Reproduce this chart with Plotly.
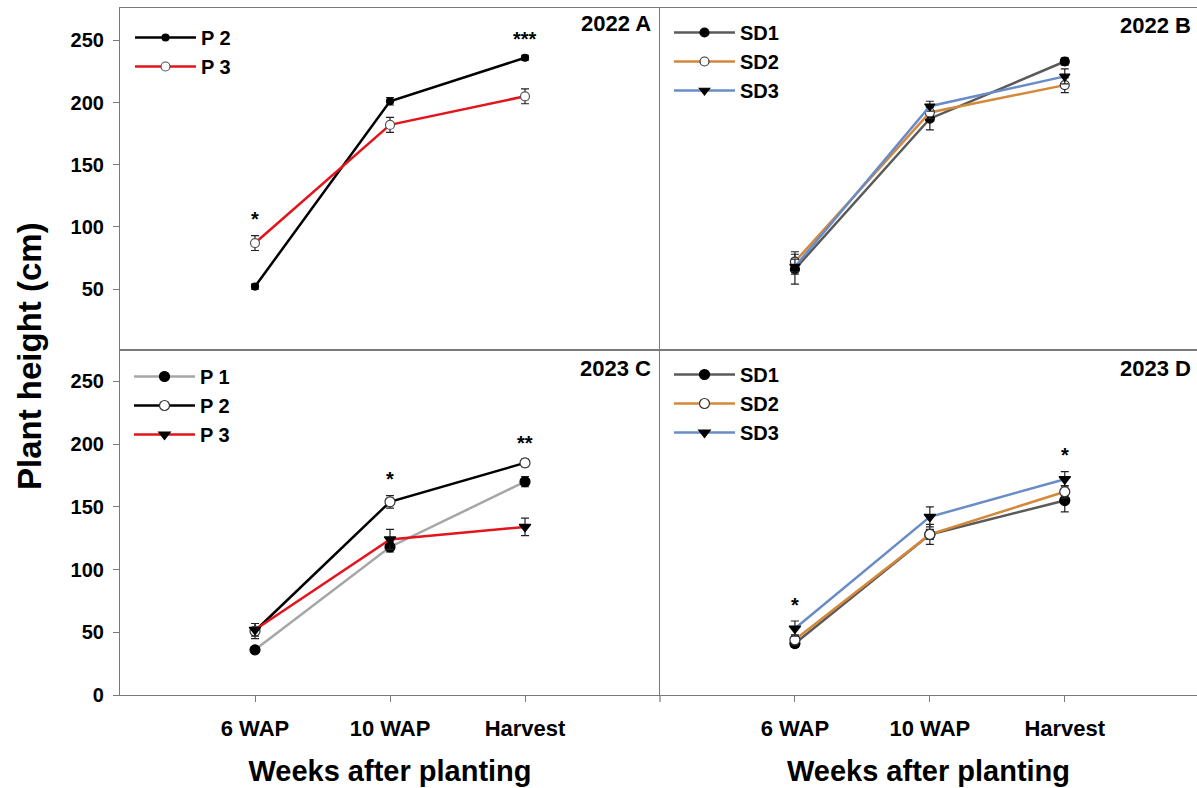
import plotly.graph_objects as go
from plotly.subplots import make_subplots

# ---- data -------------------------------------------------------------
categories = ["6 WAP", "10 WAP", "Harvest"]

# 2022, planting dates (panel A)
p2_2022 = [52, 201, 236]
p2_2022_se = [2, 3, 2]
p3_2022 = [87, 182, 205]
p3_2022_se = [6, 6, 6]

# 2022, seed density (panel B)
sd1_2022 = [66, 187, 233]
sd1_2022_se = [12, 9, 3]
sd2_2022 = [72, 192, 214]
sd2_2022_se = [8, 5, 6]
sd3_2022 = [68, 197, 221]
sd3_2022_se = [6, 4, 6]

# 2023, planting dates (panel C)
p1_2023 = [36, 118, 170]
p1_2023_se = [2, 4, 4]
p2_2023 = [51, 154, 185]
p2_2023_se = [6, 5, 3]
p3_2023 = [52, 124, 134]
p3_2023_se = [5, 8, 7]

# 2023, seed density (panel D)
sd1_2023 = [41, 128, 155]
sd1_2023_se = [3, 8, 9]
sd2_2023 = [44, 128, 162]
sd2_2023_se = [4, 4, 5]
sd3_2023 = [53, 142, 172]
sd3_2023_se = [6, 8, 6]

# significance marks per sampling time
sig_a = ["*", "", "***"]
sig_b = ["", "", ""]
sig_c = ["", "*", "**"]
sig_d = ["*", "", "*"]

panel_titles = ["2022 A", "2022 B", "2023 C", "2023 D"]
y_ticks_top = [50, 100, 150, 200, 250]
y_ticks_bottom = [0, 50, 100, 150, 200, 250]

# ---- styling ----------------------------------------------------------
FONT = "Liberation Sans, Arial, Helvetica, sans-serif"
FRAME = "#7a7a7a"
BLACK = "#000000"
RED = "#e3141b"
LIGHTGRAY = "#a6a6a6"
DARKGRAY = "#5a5a5a"
ORANGE = "#d4883a"
BLUE = "#6a8cc6"

W, H = 1197, 788
ML, MR, MT, MB = 120, 0, 8, 93
PW, PH = W - ML - MR, H - MT - MB
XSPLIT = 540 / PW
YSPLIT = 345 / PH


def px_x(px):
    return (px - ML) / PW


def px_y(py):
    return (H - MB - py) / PH


fig = make_subplots(rows=2, cols=2, horizontal_spacing=0, vertical_spacing=0)

panels = {
    (1, 1): dict(legend="legend", sig=sig_a, series=[
        ("P 2", p2_2022, p2_2022_se, BLACK, "circle", BLACK, BLACK, 7),
        ("P 3", p3_2022, p3_2022_se, RED, "circle", "white", "#555555", 9),
    ]),
    (1, 2): dict(legend="legend2", sig=sig_b, series=[
        ("SD1", sd1_2022, sd1_2022_se, DARKGRAY, "circle", BLACK, BLACK, 9),
        ("SD2", sd2_2022, sd2_2022_se, ORANGE, "circle", "white", "#333333", 9),
        ("SD3", sd3_2022, sd3_2022_se, BLUE, "triangle-down", BLACK, BLACK, 9),
    ]),
    (2, 1): dict(legend="legend3", sig=sig_c, series=[
        ("P 1", p1_2023, p1_2023_se, LIGHTGRAY, "circle", BLACK, BLACK, 10),
        ("P 2", p2_2023, p2_2023_se, BLACK, "circle", "white", "#333333", 10),
        ("P 3", p3_2023, p3_2023_se, RED, "triangle-down", BLACK, BLACK, 10),
    ]),
    (2, 2): dict(legend="legend4", sig=sig_d, series=[
        ("SD1", sd1_2023, sd1_2023_se, DARKGRAY, "circle", BLACK, BLACK, 10),
        ("SD2", sd2_2023, sd2_2023_se, ORANGE, "circle", "white", "#333333", 10),
        ("SD3", sd3_2023, sd3_2023_se, BLUE, "triangle-down", BLACK, BLACK, 10),
    ]),
}

for (r, c), spec in panels.items():
    for name, vals, se, lcol, sym, fill, edge, size in spec["series"]:
        fig.add_trace(
            go.Scatter(
                x=categories, y=vals, name=name, mode="lines+markers",
                line=dict(color=lcol, width=2.5),
                marker=dict(symbol=sym, size=size, color=fill,
                            line=dict(color=edge, width=1.2)),
                error_y=dict(type="data", array=se, color="#222222",
                             thickness=1.2, width=4),
                legend=spec["legend"],
            ),
            row=r, col=c,
        )
    # significance stars above the highest error bar at each time
    for i, mark in enumerate(spec["sig"]):
        if not mark:
            continue
        top = max(s[1][i] + s[2][i] for s in spec["series"])
        fig.add_annotation(
            x=i, y=top + 13, text=mark, showarrow=False,
            font=dict(family=FONT, size=20, color=BLACK, weight="bold"),
            row=r, col=c,
        )

axis_common = dict(showline=True, linecolor=FRAME, linewidth=1.2,
                   showgrid=False, zeroline=False)

for r in (1, 2):
    for c in (1, 2):
        xr = [-1, 3] if c == 1 else [-1, 2.98]
        fig.update_xaxes(
            **axis_common, type="category", categoryorder="array",
            categoryarray=categories, range=xr,
            mirror=True,
            showticklabels=(r == 2), ticks="outside" if r == 2 else "",
            ticklen=6, tickcolor=FRAME, tickwidth=1.2,
            tickfont=dict(family=FONT, size=22, color=BLACK, weight="bold"),
            ticklabelstandoff=7,
            title=dict(text="Weeks after planting" if r == 2 else "",
                       font=dict(family=FONT, size=29, color=BLACK, weight="bold"),
                       standoff=21),
            row=r, col=c,
        )
        yr = [1, 276] if r == 1 else [0, 275]
        fig.update_yaxes(
            **axis_common, range=yr,
            tickvals=y_ticks_top if r == 1 else y_ticks_bottom,
            showticklabels=(c == 1), ticks="outside" if c == 1 else "",
            ticklen=6, tickcolor=FRAME, tickwidth=1.2,
            tickfont=dict(family=FONT, size=20, color=BLACK, weight="bold"),
            ticklabelstandoff=5,
            row=r, col=c,
        )

# panel domains
fig.update_layout(
    xaxis=dict(domain=[0, XSPLIT]), xaxis2=dict(domain=[XSPLIT, 1]),
    xaxis3=dict(domain=[0, XSPLIT]), xaxis4=dict(domain=[XSPLIT, 1]),
    yaxis=dict(domain=[YSPLIT, 1]), yaxis2=dict(domain=[YSPLIT, 1]),
    yaxis3=dict(domain=[0, YSPLIT]), yaxis4=dict(domain=[0, YSPLIT]),
)

# panel labels
label_pos = [(653, 24), (1193, 25), (653, 368), (1193, 368)]
for text, (lx, ly) in zip(panel_titles, label_pos):
    fig.add_annotation(
        xref="paper", yref="paper", x=px_x(lx), y=px_y(ly),
        xanchor="right", yanchor="middle", text=text, showarrow=False,
        font=dict(family=FONT, size=22, color=BLACK, weight="bold"),
    )

# shared y title
fig.add_annotation(
    xref="paper", yref="paper", x=px_x(29), y=px_y(356),
    xanchor="center", yanchor="middle", textangle=-90,
    text="Plant height (cm)", showarrow=False,
    font=dict(family=FONT, size=33, color=BLACK, weight="bold"),
)

# divider stub below the bottom axis
fig.add_shape(type="line", xref="paper", yref="paper",
              x0=XSPLIT, x1=XSPLIT, y0=0, y1=-7 / PH,
              line=dict(color=FRAME, width=1.2))

legend_common = dict(
    bgcolor="rgba(0,0,0,0)", borderwidth=0,
    font=dict(family=FONT, size=20, color=BLACK, weight="bold"),
    xanchor="left", yanchor="top", itemwidth=61, tracegroupgap=0,
)
fig.update_layout(
    legend=dict(**legend_common, x=px_x(130), y=px_y(18)),
    legend2=dict(**legend_common, x=px_x(669), y=px_y(13)),
    legend3=dict(**legend_common, x=px_x(129), y=px_y(357)),
    legend4=dict(**legend_common, x=px_x(669), y=px_y(355)),
)

fig.update_layout(
    width=W, height=H,
    margin=dict(l=ML, r=MR, t=MT, b=MB),
    paper_bgcolor="white", plot_bgcolor="white",
    showlegend=True,
)

fig.write_html("out.html")
